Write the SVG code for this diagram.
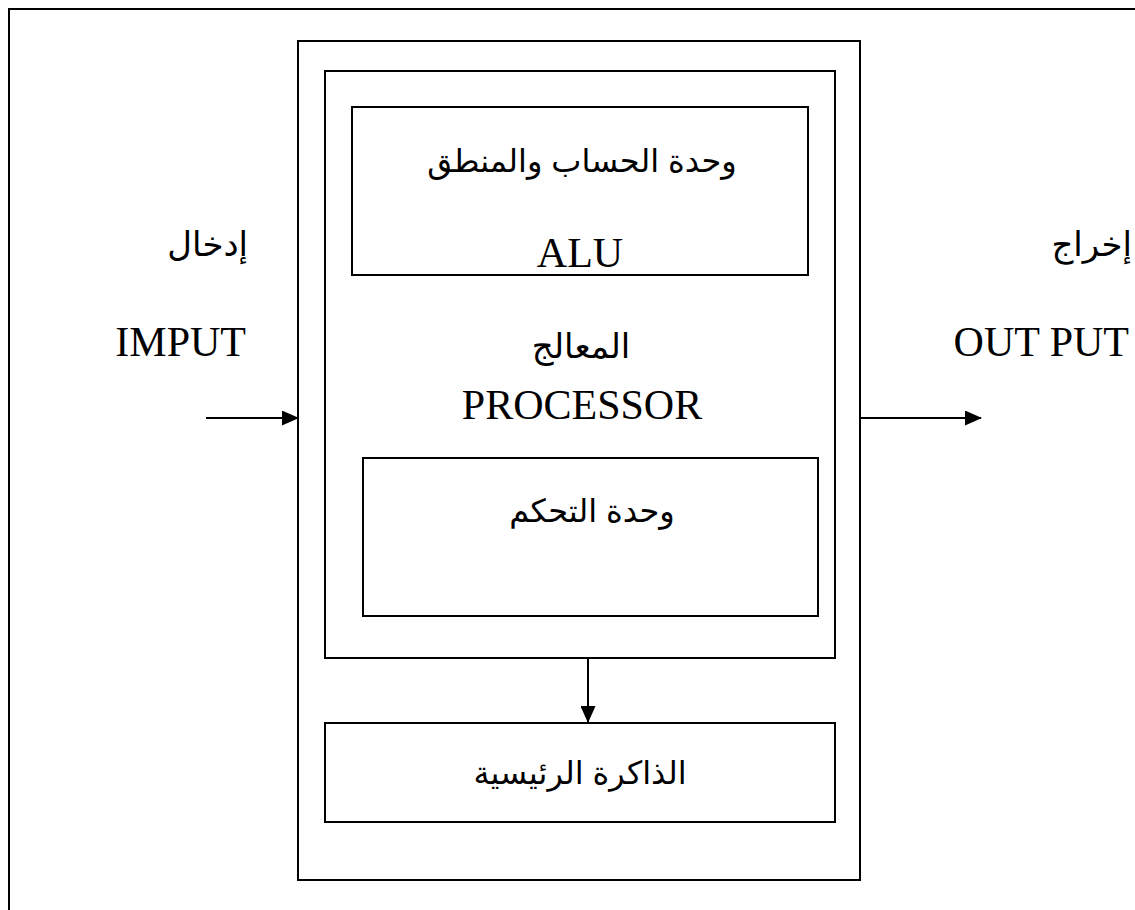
<svg xmlns="http://www.w3.org/2000/svg" width="1135" height="910" viewBox="0 0 1135 910">
<style>
.box{fill:none;stroke:#000;stroke-width:2}
.lat{font-family:"Liberation Serif","Times New Roman",serif;font-size:42px;fill:#000}
.arS{font-family:"Liberation Serif","DejaVu Serif","DejaVu Sans",serif;font-size:34px;fill:#000}
.arA{font-family:"Liberation Sans","DejaVu Sans",sans-serif;font-size:32px;fill:#000}
.con{stroke:#000;stroke-width:2;fill:none}
</style>
<defs>
<marker id="ah" markerWidth="17" markerHeight="15" refX="16" refY="7.5" orient="auto" markerUnits="userSpaceOnUse">
<path d="M0,0 L17,7.5 L0,15 Z" fill="#000"/>
</marker>
</defs>
<rect width="1135" height="910" fill="#fff"/>
<path d="M9,915 V9 H1140" class="box"/>
<g id="computer"><rect x="298" y="41" width="562" height="839" class="box"/></g>
<g id="processor">
<rect x="325" y="71" width="510" height="587" class="box"/>
<text x="581" y="358" text-anchor="middle" class="arS" direction="ltr">المعالج</text>
<text x="582" y="419" text-anchor="middle" class="lat">PROCESSOR</text>
</g>
<g id="alu">
<rect x="352" y="107" width="456" height="168" class="box"/>
<text x="582" y="172" text-anchor="middle" class="arA" direction="ltr">وحدة الحساب والمنطق</text>
<text x="580" y="267" text-anchor="middle" class="lat">ALU</text>
</g>
<g id="control">
<rect x="363" y="458" width="455" height="158" class="box"/>
<text x="592" y="522" text-anchor="middle" class="arA" direction="ltr">وحدة التحكم</text>
</g>
<g id="memory">
<rect x="325" y="723" width="510" height="99" class="box"/>
<text x="580" y="784" text-anchor="middle" class="arA" direction="ltr">الذاكرة الرئيسية</text>
</g>
<g id="input">
<text x="248" y="256" text-anchor="end" class="arS" direction="ltr">إدخال</text>
<text x="246" y="356" text-anchor="end" class="lat">IMPUT</text>
</g>
<g id="output">
<text x="1132" y="256" text-anchor="end" class="arS" direction="ltr">إخراج</text>
<text x="1129" y="356" text-anchor="end" class="lat">OUT PUT</text>
</g>
<g id="connectors">
<line x1="206" y1="418" x2="298" y2="418" class="con" marker-end="url(#ah)"/>
<line x1="861" y1="418" x2="981" y2="418" class="con" marker-end="url(#ah)"/>
<line x1="588" y1="658" x2="588" y2="722" class="con" marker-end="url(#ah)"/>
</g>
</svg>
